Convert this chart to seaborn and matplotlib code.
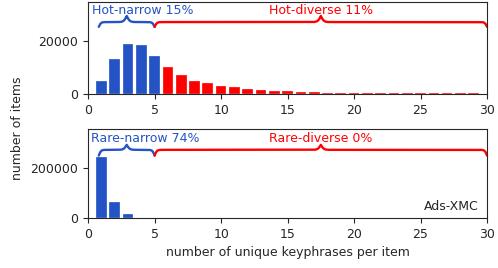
import numpy as np
import pandas as pd
import matplotlib
matplotlib.use("Agg")
import matplotlib.pyplot as plt
import seaborn as sns

# keyphrase counts per item (1..29)
n_keyphrases = list(range(1, 30))
hot_items = [4900, 13300, 18900, 18400, 14300, 10000, 7200, 5100, 4100, 3100,
             2700, 1900, 1550, 1300, 1150, 900, 850, 550, 500, 450,
             400, 320, 300, 280, 270, 260, 250, 240, 230]
rare_items = [246000, 64000, 17000, 1500, 0, 0, 0, 0, 0, 0,
              0, 0, 0, 0, 0, 0, 0, 0, 0, 0,
              0, 0, 0, 0, 0, 0, 0, 0, 0]
group_labels = ["narrow", "diverse"]
hot_text = ["Hot-narrow 15%", "Hot-diverse 11%"]
rare_text = ["Rare-narrow 74%", "Rare-diverse 0%"]

BLUE = "#2353c4"
RED = "#ff0000"


def brace(ax, x0, x1, y_end, y_flat, y_peak, color):
    # curly brace: sigmoid hooks at the ends, a softer bump in the middle
    xs = np.linspace(x0, x1, 1201)
    half = (x1 - x0) / 2
    d = np.minimum(xs - x0, x1 - xs)
    s1 = (1 / (1 + np.exp(-12.0 * d)) - 0.5) * 2
    s2 = 1 / (1 + np.exp(-9.0 * (d - half)))
    ys = y_end + (y_flat - y_end) * s1 + (y_peak - y_flat) * s2 * 2
    ax.plot(xs, ys, color=color, lw=1.7, solid_capstyle="round", clip_on=False)


def panel(ax, values, texts, ymax, ytick, brace_y, text_y, narrow_x):
    df = pd.DataFrame({
        "k": n_keyphrases,
        "items": values,
        "group": [group_labels[0] if k <= 5 else group_labels[1] for k in n_keyphrases],
    })
    sns.barplot(data=df, x="k", y="items", hue="group", native_scale=True,
                palette={"narrow": BLUE, "diverse": RED}, width=0.8,
                edgecolor="white", linewidth=0.2, dodge=False, legend=False,
                saturation=1, ax=ax)
    ax.set_xlim(0, 30)
    ax.set_ylim(0, ymax)
    ax.set_xticks(range(0, 31, 5))
    ax.set_yticks([0, ytick])
    ax.set_xlabel("")
    ax.set_ylabel("")
    ax.tick_params(labelsize=9)
    y_end, y_flat, y_peak = brace_y
    brace(ax, 0.8, 5.0, y_end, y_flat, y_peak, BLUE)
    brace(ax, 5.0, 30.0, y_end, y_flat, y_peak, RED)
    ax.text(narrow_x, text_y, texts[0], color=BLUE, fontsize=9, ha="left", va="baseline")
    ax.text(17.5, text_y, texts[1], color=RED, fontsize=9, ha="center", va="baseline")


sns.set_style("ticks")
plt.rcParams["font.family"] = ["DejaVu Sans"]

fig = plt.figure(figsize=(4.98, 2.68), dpi=100)
ax1 = fig.add_axes([0.177, 0.649, 0.801, 0.344])
ax2 = fig.add_axes([0.177, 0.187, 0.801, 0.332])

panel(ax1, hot_items, hot_text, 34700, 20000,
      (25300, 27100, 29400), 30300, 0.3)
panel(ax2, rare_items, rare_text, 357000, 200000,
      (250000, 273000, 293000), 306000, 0.2)

ax2.text(0.98, 0.09, "Ads-XMC", transform=ax2.transAxes, ha="right",
         va="baseline", fontsize=9)
ax2.set_xlabel("number of unique keyphrases per item", fontsize=9)
fig.text(0.035, 0.52, "number of items", rotation=90, ha="center",
         va="center", fontsize=9)

fig.savefig("out.png", dpi=100)
